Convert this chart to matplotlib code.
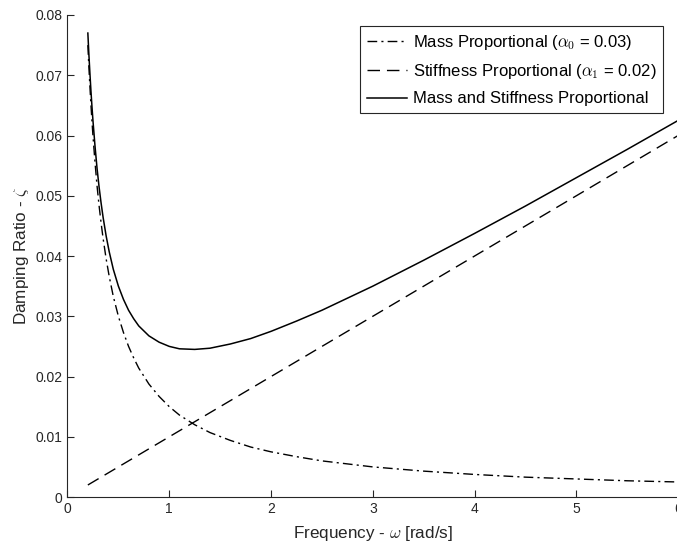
import numpy as np
import matplotlib.pyplot as plt

# Frecuencias [rad/s] y razones de amortiguamiento
omega = [0.2, 0.21, 0.22, 0.23, 0.24, 0.25, 0.27, 0.29, 0.31, 0.33, 0.35, 0.38, 0.41,
         0.45, 0.5, 0.55, 0.6, 0.65, 0.7, 0.8, 0.9, 1.0, 1.1, 1.25, 1.4, 1.6, 1.8, 2.0,
         2.25, 2.5, 2.75, 3.0, 3.5, 4.0, 4.5, 5.0, 5.5, 6.0]

zeta_mass = [0.075, 0.0714, 0.0682, 0.0652, 0.0625, 0.060, 0.0556, 0.0517, 0.0484, 0.0455,
             0.0429, 0.0395, 0.0366, 0.0333, 0.030, 0.0273, 0.025, 0.0231, 0.0214, 0.01875,
             0.0167, 0.015, 0.0136, 0.012, 0.0107, 0.0094, 0.0083, 0.0075, 0.0067, 0.006,
             0.0055, 0.005, 0.0043, 0.00375, 0.0033, 0.003, 0.0027, 0.0025]

zeta_stiff = [0.002, 0.0021, 0.0022, 0.0023, 0.0024, 0.0025, 0.0027, 0.0029, 0.0031, 0.0033,
              0.0035, 0.0038, 0.0041, 0.0045, 0.005, 0.0055, 0.006, 0.0065, 0.007, 0.008,
              0.009, 0.010, 0.011, 0.0125, 0.014, 0.016, 0.018, 0.020, 0.0225, 0.025,
              0.0275, 0.030, 0.035, 0.040, 0.045, 0.050, 0.055, 0.060]

zeta_both = [0.077, 0.0735, 0.0704, 0.0675, 0.0649, 0.0625, 0.0583, 0.0546, 0.0515, 0.0488,
             0.0464, 0.0433, 0.0407, 0.0378, 0.035, 0.0328, 0.031, 0.0296, 0.0284, 0.02675,
             0.0257, 0.025, 0.0246, 0.0245, 0.0247, 0.0254, 0.0263, 0.0275, 0.0292, 0.031,
             0.033, 0.035, 0.0393, 0.04375, 0.0483, 0.053, 0.0577, 0.0625]

labels = [r'Mass Proportional ($\alpha_0$ = 0.03)',
          r'Stiffness Proportional ($\alpha_1$ = 0.02)',
          'Mass and Stiffness Proportional']

plt.rcParams['font.family'] = ['Liberation Sans', 'DejaVu Sans']
plt.rcParams['mathtext.fontset'] = 'cm'

gris = '#262626'
fig = plt.figure(figsize=(6.77, 5.45), dpi=100)
ax = fig.add_axes([0.0997, 0.088, 0.902, 0.8845])

ax.plot(omega, zeta_mass, color='k', lw=1, ls=(0, (7, 3, 1.5, 3)), label=labels[0])
ax.plot(omega, zeta_stiff, color='k', lw=1, ls=(0, (9, 5)), label=labels[1])
ax.plot(omega, zeta_both, color='k', lw=1.1, ls='-', label=labels[2])

ax.set_xlim(0, 6)
ax.set_ylim(0, 0.08)
ax.set_xticks(np.arange(0, 7, 1))
ax.set_yticks(np.arange(0, 0.081, 0.01))
ax.set_yticklabels(['0', '0.01', '0.02', '0.03', '0.04', '0.05', '0.06', '0.07', '0.08'])

ax.spines['top'].set_visible(False)
ax.spines['right'].set_visible(False)
for s in ['left', 'bottom']:
    ax.spines[s].set_color(gris)
    ax.spines[s].set_linewidth(0.8)
ax.tick_params(direction='in', length=5, width=0.8, colors=gris, labelsize=10)

ax.set_xlabel(r'Frequency - $\omega$ [rad/s]', fontsize=12.3, color=gris, labelpad=6)
ax.set_ylabel(r'Damping Ratio - $\zeta$', fontsize=12.3, color=gris, labelpad=3)

leg = ax.legend(loc='upper right', bbox_to_anchor=(0.975, 0.977), fontsize=12,
                fancybox=False, framealpha=1, edgecolor=gris, borderpad=0.4,
                labelspacing=0.62, handlelength=2.4, handletextpad=0.35, borderaxespad=0)
leg.get_frame().set_linewidth(0.8)

fig.savefig('out.png', dpi=100)
